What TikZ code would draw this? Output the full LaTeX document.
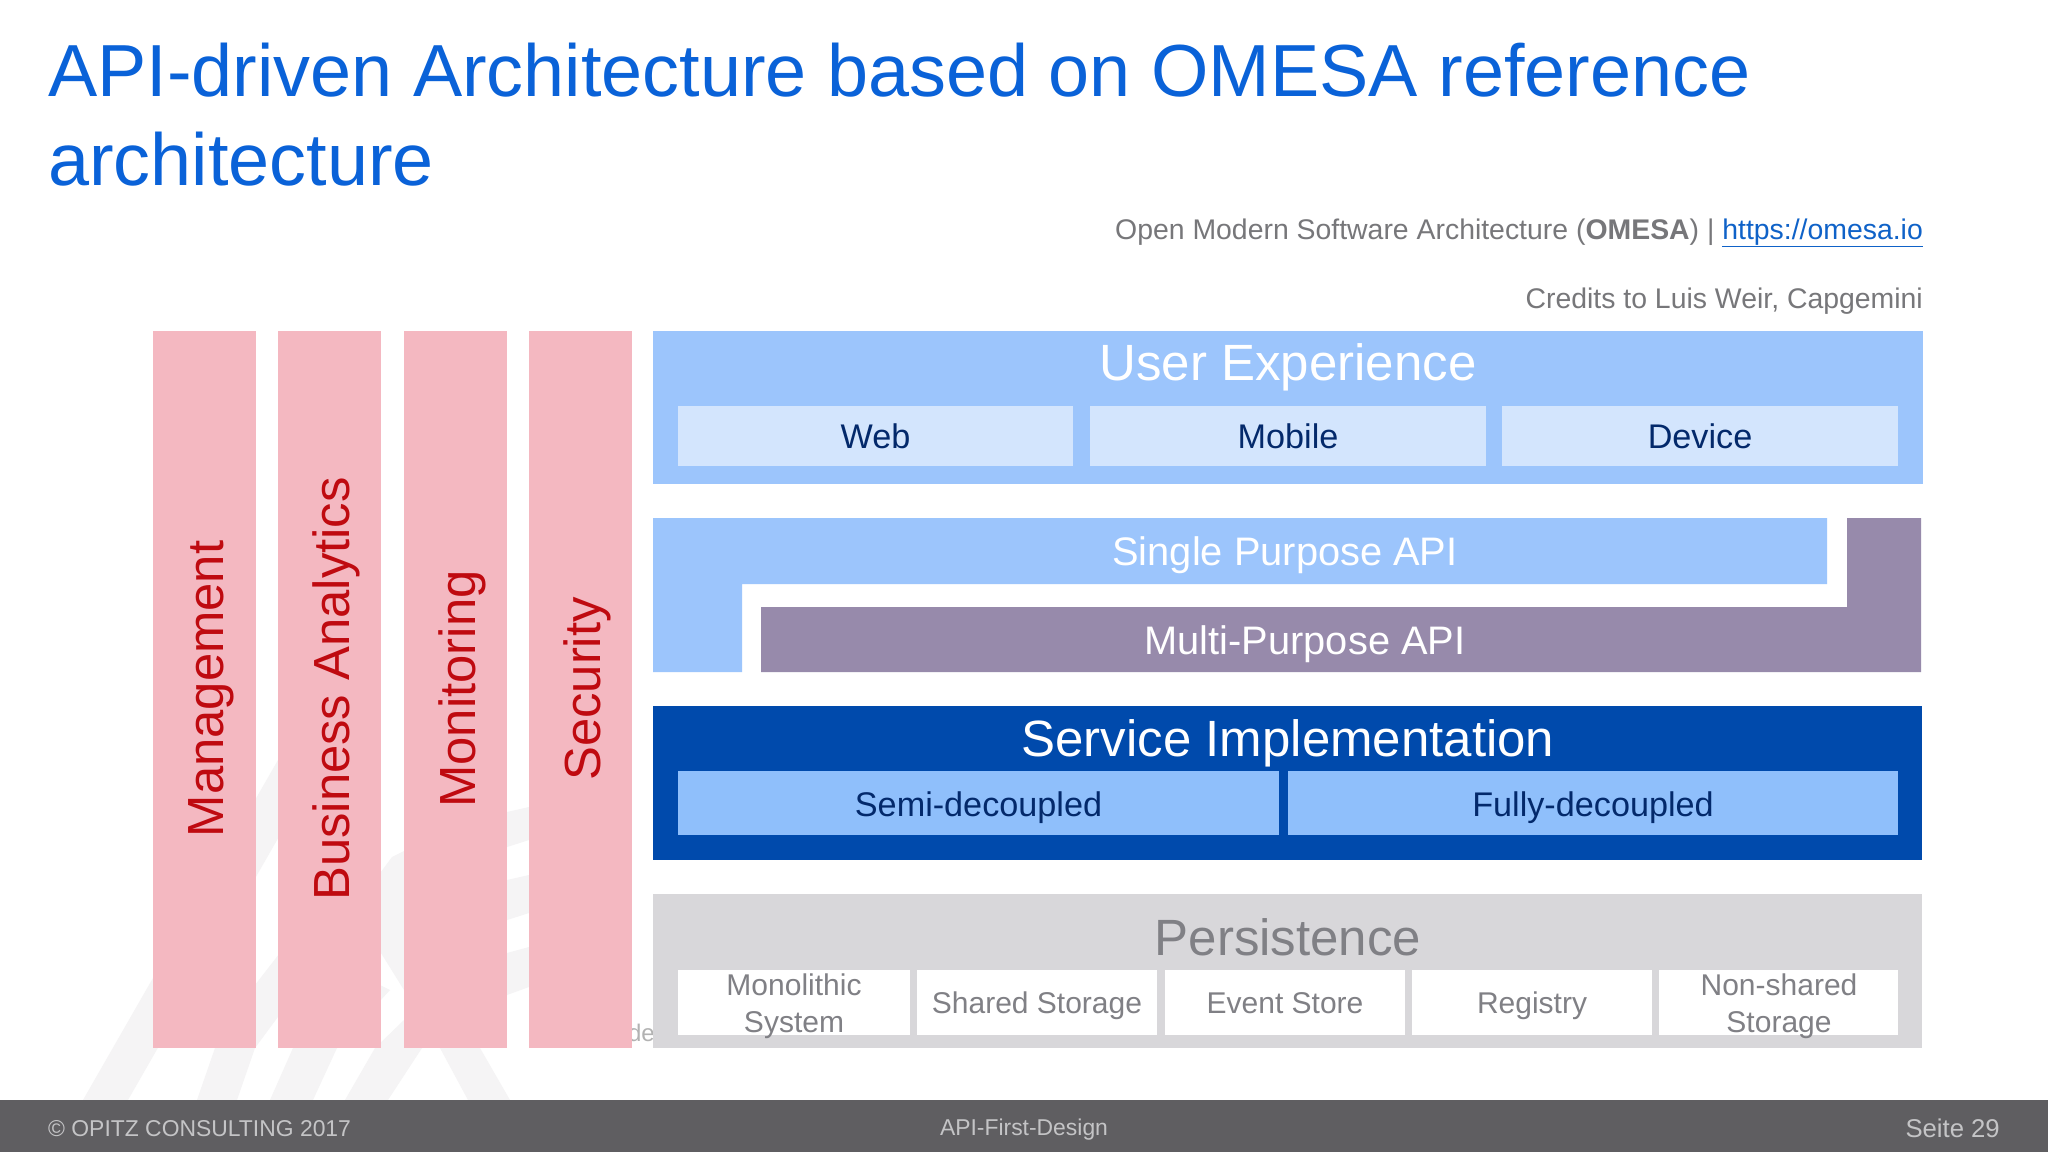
\documentclass[tikz,border=0pt]{standalone}
\usepackage{fontspec}
\setmainfont{Liberation Sans}
\definecolor{titleblue}{HTML}{0A62D8}
\definecolor{pinkbar}{HTML}{F4B8C1}
\definecolor{pinktext}{HTML}{BF0A10}
\definecolor{lightblue}{HTML}{9CC5FC}
\definecolor{paleblue}{HTML}{D3E5FD}
\definecolor{midblue}{HTML}{8FBFFB}
\definecolor{navytext}{HTML}{03296B}
\definecolor{deepblue}{HTML}{004AAC}
\definecolor{purplebar}{HTML}{978AAB}
\definecolor{greybar}{HTML}{D8D7DA}
\definecolor{greytext}{HTML}{808085}
\definecolor{footergrey}{HTML}{5F5E61}
\definecolor{footertext}{HTML}{C4C4C6}
\definecolor{wmark}{HTML}{F5F4F5}
\definecolor{creditgrey}{HTML}{77777A}
\definecolor{linkblue}{HTML}{0F62C8}
\newcommand{\fs}[1]{\fontsize{#1}{#1}\selectfont}
\tikzset{
  x=1pt,y=-1pt,
  box/.style={draw=none,inner sep=0pt,anchor=north west},
  pillar/.style={box,fill=pinkbar,minimum width=103pt,minimum height=717pt},
  pillartext/.style={inner sep=0pt,anchor=base,rotate=90,text=pinktext,font=\fs{50.8}},
  headtext/.style={inner sep=0pt,anchor=base,font=\fs{51}},
  apitext/.style={inner sep=0pt,anchor=base,text=white,font=\fs{39.8}},
  innertext/.style={inner sep=0pt,anchor=base,text=navytext,font=\fs{34.2}},
  perbox/.style={box,fill=white,minimum height=65pt},
  pertext/.style={inner sep=0pt,anchor=base,text=greytext,font=\fs{30}},
  pertwo/.style={inner sep=0pt,text=greytext,align=center,font=\fontsize{30}{36.5}\selectfont},
  wm/.style={fill=wmark,draw=none},
}
\begin{document}
\begin{tikzpicture}
\useasboundingbox (0,0) rectangle (2048,1152);
\fill[white] (0,0) rectangle (2048,1152);
% watermark
\fill[wm] (83,1100) -- (278,760) -- (300,725) -- (300,800) -- (128,1100) -- cycle;
\fill[wm] (197,1100) -- (215,1048) -- (255,985) -- (290,940) -- (320,960) -- (255,1048) -- (237,1100) -- cycle;
\fill[wm] (270,1100) -- (293,1048) -- (340,965) -- (390,990) -- (337,1048) -- (313,1100) -- cycle;
\fill[wm] (345,1100) -- (375,1048) -- (404,1020) -- (430,990) -- (470,1000) -- (422,1048) -- (388,1100) -- cycle;
\fill[wm] (392,857) -- (404,851) -- (450,900) -- (480,1048) -- (510,1100) -- (468,1100) -- (440,1048) -- (381,953) -- (375,880) -- cycle;
\fill[wm] (450,825) -- (507,812) -- (529,807) -- (529,840) -- (507,847) -- (450,860) -- cycle;
\fill[wm] (450,895) -- (507,880) -- (529,875) -- (529,913) -- (507,920) -- (450,935) -- cycle;
\fill[wm] (450,975) -- (507,953) -- (529,947) -- (529,987) -- (507,995) -- (450,1015) -- cycle;
\node[inner sep=0pt,text=black!30,font=\fs{24},anchor=base east] (ode) at (655,1041) {ode};
% title
\node[inner sep=0pt,anchor=base west,text=titleblue,font=\fs{73.8}] (title1) at (48,96) {API-driven Architecture based on OMESA reference};
\node[inner sep=0pt,anchor=base west,text=titleblue,font=\fs{73.8}] (title2) at (48,185) {architecture};
\node[inner sep=0pt,anchor=base east,text=creditgrey,font=\fs{28.4}] (src) at (1923,239) {Open Modern Software Architecture (\textbf{OMESA}) | \textcolor{linkblue}{\underline{https://omesa.io}}};
\node[inner sep=0pt,anchor=base east,text=creditgrey,font=\fs{28.4}] (cred) at (1923,308) {Credits to Luis Weir, Capgemini};
% pillars
\node[pillar] (p1) at (153,331) {};
\node[pillar] (p2) at (278,331) {};
\node[pillar] (p3) at (404,331) {};
\node[pillar] (p4) at (529,331) {};
\node[pillartext] (t1) at (223,689) {Management};
\node[pillartext] (t2) at (349,689) {Business Analytics};
\node[pillartext] (t3) at (475,689) {Monitoring};
\node[pillartext] (t4) at (600,689) {Security};
% user experience
\node[box,fill=lightblue,minimum width=1270pt,minimum height=153pt] (ux) at (653,331) {};
\node[headtext,text=white] (uxt) at (1288,380) {User Experience};
\node[box,fill=paleblue,minimum width=395pt,minimum height=60pt] (web) at (678,406) {};
\node[box,fill=paleblue,minimum width=396pt,minimum height=60pt] (mob) at (1090,406) {};
\node[box,fill=paleblue,minimum width=396pt,minimum height=60pt] (dev) at (1502,406) {};
\node[innertext] (webt) at (875.5,448) {Web};
\node[innertext] (mobt) at (1288,448) {Mobile};
\node[innertext] (devt) at (1700,448) {Device};
% API bars
\fill[lightblue] (653,518) -- (1827,518) -- (1827,584) -- (742,584) -- (742,672) -- (653,672) -- cycle;
\fill[purplebar] (1847,518) -- (1921,518) -- (1921,672) -- (761,672) -- (761,607) -- (1847,607) -- cycle;
\node[apitext] (sp) at (1285,565) {Single Purpose API};
\node[apitext] (mp) at (1305,654) {Multi-Purpose API};
% service implementation
\node[box,fill=deepblue,minimum width=1269pt,minimum height=154pt] (si) at (653,706) {};
\node[headtext,text=white] (sit) at (1288,756) {Service Implementation};
\node[box,fill=midblue,minimum width=601pt,minimum height=64pt] (semi) at (678,771) {};
\node[box,fill=midblue,minimum width=610pt,minimum height=64pt] (fully) at (1288,771) {};
\node[innertext] (semit) at (978.5,816) {Semi-decoupled};
\node[innertext] (fullyt) at (1593,816) {Fully-decoupled};
% persistence
\node[box,fill=greybar,minimum width=1269pt,minimum height=154pt] (per) at (653,894) {};
\node[headtext,text=greytext] (pert) at (1288,955) {Persistence};
\node[perbox,minimum width=232pt] (a) at (678,970) {};
\node[perbox,minimum width=240pt] (b) at (917,970) {};
\node[perbox,minimum width=240pt] (c) at (1165,970) {};
\node[perbox,minimum width=240pt] (d) at (1412,970) {};
\node[perbox,minimum width=239pt] (e) at (1659,970) {};
\node[pertwo] (at) at (794,1006) {Monolithic\\System};
\node[pertext] (bt) at (1037,1013) {Shared Storage};
\node[pertext] (ct) at (1285,1013) {Event Store};
\node[pertext] (dt) at (1532,1013) {Registry};
\node[pertwo] (et) at (1779,1006) {Non-shared\\Storage};
% footer
\fill[footergrey] (0,1100) rectangle (2048,1152);
\node[inner sep=0pt,anchor=base west,text=footertext,font=\fs{22.9}] (f1) at (48,1136) {© OPITZ CONSULTING 2017};
\node[inner sep=0pt,anchor=base,text=footertext,font=\fs{22.9}] (f2) at (1024,1135) {API-First-Design};
\node[inner sep=0pt,anchor=base east,text=footertext,font=\fs{25.7}] (f3) at (2000,1137) {Seite 29};
\end{tikzpicture}
\end{document}
